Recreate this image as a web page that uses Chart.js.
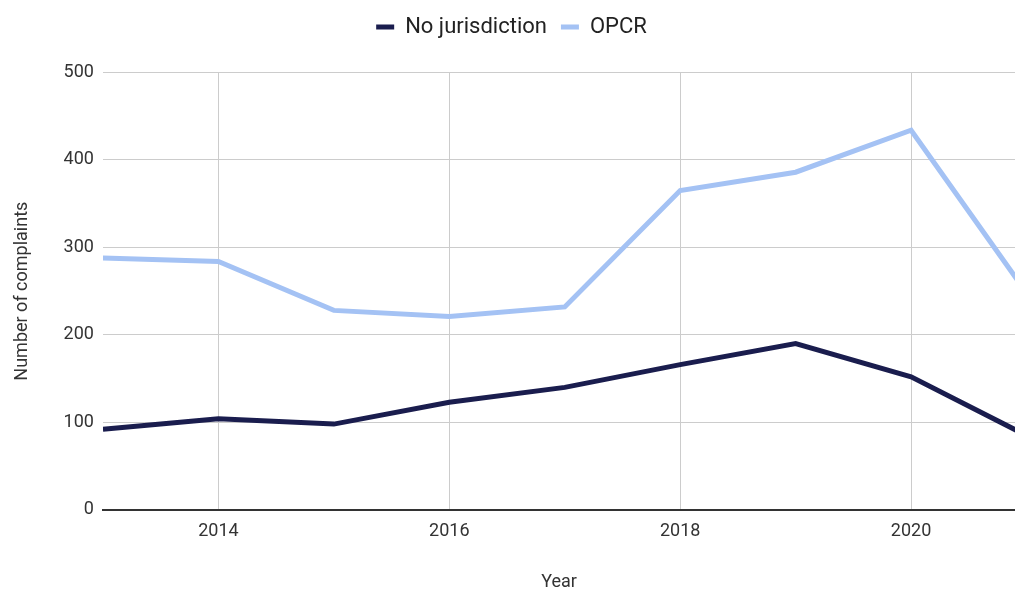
<!DOCTYPE html>
<html>
<head>
<meta charset="utf-8">
<script src="https://cdn.jsdelivr.net/npm/chart.js@4.4.0/dist/chart.umd.min.js"></script>
<style>
  html, body { margin: 0; padding: 0; background: #fff; }
  #wrap { width: 1015px; height: 591px; position: relative; }
</style>
</head>
<body>
<div id="wrap"><canvas id="complaints"></canvas></div>
<script>
const years = [2013, 2014, 2015, 2016, 2017, 2018, 2019, 2020, 2021];
const noJurisdiction = [92, 104, 98, 123, 140, 166, 190, 152, 85];
const opcr = [288, 284, 228, 221, 232, 365, 386, 434, 248];
const xTicks = [2014, 2016, 2018, 2020];

const toPoints = vals => vals.map((v, i) => ({ x: years[i], y: v }));

// extra room under the legend
const legendGap = {
  id: "legendGap",
  beforeInit(chart) {
    const fit = chart.legend.fit;
    chart.legend.fit = function () {
      fit.bind(chart.legend)();
      this.height += 24.5;
    };
  }
};

const config = {
  type: "line",
  data: {
    datasets: [
      {
        label: "No jurisdiction",
        data: toPoints(noJurisdiction),
        borderColor: "#1a1d4e",
        backgroundColor: "#1a1d4e",
        borderWidth: 5,
        pointRadius: 0,
        tension: 0
      },
      {
        label: "OPCR",
        data: toPoints(opcr),
        borderColor: "#a4c2f4",
        backgroundColor: "#a4c2f4",
        borderWidth: 5,
        pointRadius: 0,
        tension: 0
      }
    ]
  },
  options: {
    responsive: true,
    maintainAspectRatio: false,
    animation: false,
    layout: { padding: { left: 8, right: 0, top: 2, bottom: 0 } },
    plugins: {
      legend: {
        position: "top",
        labels: {
          usePointStyle: true,
          pointStyle: "line",
          pointStyleWidth: 18,
          color: "#222",
          font: { family: "Roboto", size: 22 },
          padding: 14
        }
      },
      tooltip: { enabled: false }
    },
    scales: {
      x: {
        type: "linear",
        min: 2013,
        max: 2020.9,
        afterBuildTicks: axis => { axis.ticks = xTicks.map(v => ({ value: v })); },
        grid: { color: "#cccccc", drawTicks: false },
        border: { color: "#333", width: 2 },
        ticks: {
          color: "#333",
          font: { family: "Roboto", size: 18 },
          padding: 11,
          callback: v => String(v)
        },
        title: {
          display: true,
          text: "Year",
          color: "#333",
          font: { family: "Roboto", size: 18 },
          padding: { top: 18, bottom: -2 }
        }
      },
      y: {
        min: 0,
        max: 500,
        ticks: {
          stepSize: 100,
          color: "#333",
          font: { family: "Roboto", size: 18 },
          padding: 9
        },
        grid: { color: "#cccccc", drawTicks: false },
        border: { display: false },
        title: {
          display: true,
          text: "Number of complaints",
          color: "#333",
          font: { family: "Roboto", size: 18 },
          padding: { top: 4, bottom: 21 }
        }
      }
    }
  },
  plugins: [legendGap]
};

new Chart("complaints", config);
</script>
</body>
</html>
